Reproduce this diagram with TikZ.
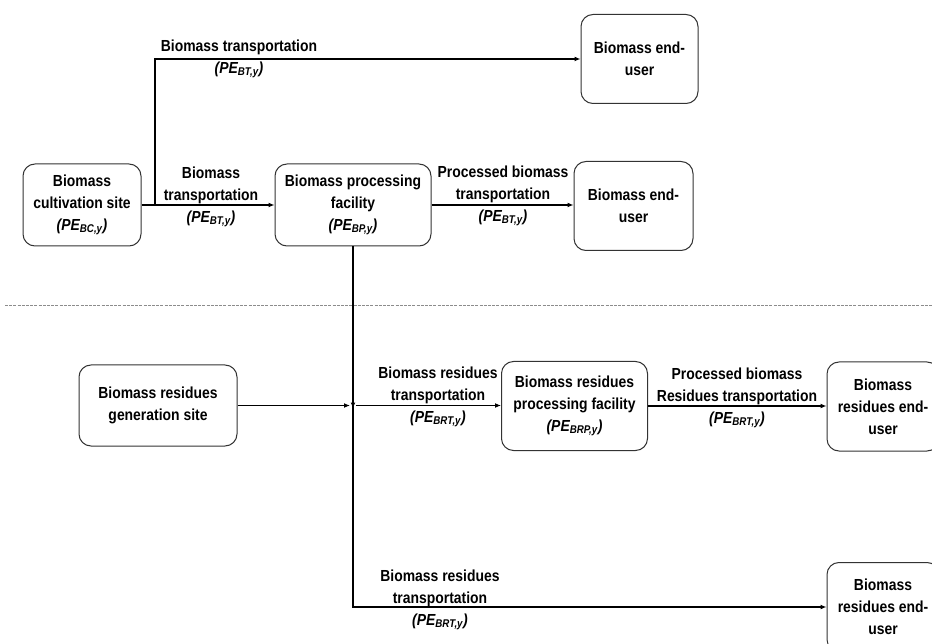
\documentclass[tikz,border=0pt]{standalone}
\usepackage{fontspec}
\setmainfont{Liberation Sans}[FakeStretch=0.87]
\usetikzlibrary{arrows.meta}
\newcommand{\pesub}[1]{\textit{(PE\textsubscript{#1})}}
\tikzset{
  box/.style={draw=black!80, line width=1pt, rounded corners=12pt, align=center,
    inner sep=2pt, font=\fontsize{16}{22}\selectfont\bfseries},
  lab/.style={align=center, inner sep=0pt, font=\fontsize{16}{22}\selectfont\bfseries},
  conn/.style={draw=black, line width=1.3pt},
  arr/.style={conn, -{Latex[length=6pt,width=5pt]}},
  sep/.style={draw=black!45, line width=1pt, dash pattern=on 3pt off 1.2pt}
}
\begin{document}
\begin{tikzpicture}[x=1pt,y=-1pt]
\clip (0,0) rectangle (932,644);
% boxes
\node[box, minimum width=117pt, minimum height=89pt] (eu1) at (639.5,59) {Biomass end-\\user};
\node[box, minimum width=118pt, minimum height=82pt] (cult) at (82,205) {Biomass\\cultivation site\\\pesub{BC,y}};
\node[box, minimum width=156pt, minimum height=82pt] (proc) at (353,205) {Biomass processing\\facility\\\pesub{BP,y}};
\node[box, minimum width=119pt, minimum height=89pt] (eu2) at (633.5,206) {Biomass end-\\user};
\node[box, minimum width=158pt, minimum height=81pt] (gen) at (158,405.5) {Biomass residues\\generation site};
\node[box, minimum width=146pt, minimum height=89pt] (rproc) at (574.5,406) {Biomass residues\\processing facility\\\pesub{BRP,y}};
\node[box, minimum width=112pt, minimum height=89pt] (reu1) at (883,406.5) {Biomass\\residues end-\\user};
\node[box, minimum width=112pt, minimum height=89pt] (reu2) at (883,607) {Biomass\\residues end-\\user};
% junctions
\coordinate (jt) at (155,205);
\coordinate (jn) at (353,405.5);
% separator
\coordinate (s1) at (5,306);
\coordinate (s2) at (932,306);
\draw[sep] (s1) -- (s2);
% connectors
\draw[arr] (jt) |- (eu1.west);
\draw[arr] (cult.east) -- (proc.west);
\draw[arr] (proc.east) -- (proc.east -| eu2.west);
\draw[arr] (proc.south) -- ([yshift=-3pt]jn);
\draw[arr] (gen.east) -- ([xshift=-3pt]jn);
\draw[arr] ([xshift=3pt]jn) -- (jn -| rproc.west);
\draw[arr] ([yshift=3pt]jn) |- (reu2.west);
\draw[arr] (rproc.east) -- (rproc.east -| reu1.west);
% labels
\node[lab] (l1) at (239,59) {Biomass transportation\\\pesub{BT,y}};
\node[lab] (l2) at (211,197) {Biomass\\transportation\\\pesub{BT,y}};
\node[lab] (l3) at (503,196) {Processed biomass\\transportation\\\pesub{BT,y}};
\node[lab] (l4) at (438,397) {Biomass residues\\transportation\\\pesub{BRT,y}};
\node[lab] (l5) at (737,398) {Processed biomass\\Residues transportation\\\pesub{BRT,y}};
\node[lab] (l6) at (440,600) {Biomass residues\\transportation\\\pesub{BRT,y}};
\end{tikzpicture}
\end{document}
